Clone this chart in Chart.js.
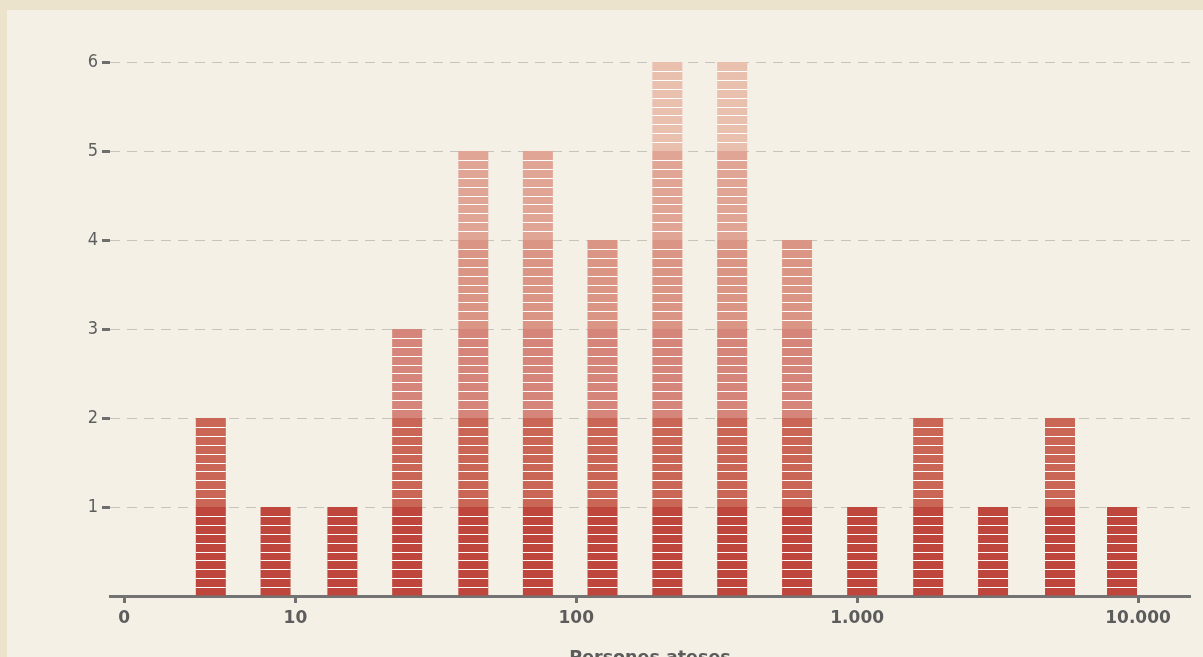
<!DOCTYPE html>
<html>
<head>
<meta charset="utf-8">
<script src="https://cdn.jsdelivr.net/npm/chart.js@4.4.1/dist/chart.umd.min.js"></script>
<style>
  html, body { margin: 0; padding: 0; overflow: hidden; background: #ebe3cb; }
  #panel { position: absolute; left: 7px; top: 10px; width: 1196px; height: 660px; background: #f4f0e6; }
  #chart { display: block; }
</style>
</head>
<body>
<div id="panel"><canvas id="chart" width="1196" height="660"></canvas></div>
<script>
// bins (people served, log spaced) and number of cases per bin
const binCenters = [5, 8.5, 14.7, 25, 43, 73, 124, 211, 359, 611, 1042, 1790, 3047, 5275, 8770];
const counts = [2, 1, 1, 3, 5, 5, 4, 6, 6, 4, 1, 2, 1, 2, 1];

const xTickValues = [0, 10, 100, 1000, 10000];
const xTickLabels = ["0", "10", "100", "1.000", "10.000"];
const yTickValues = [1, 2, 3, 4, 5, 6];

// one colour per unit level, darker at the bottom
const levelColors = ["#bf463d", "#c96656", "#d5857a", "#da9585", "#e0a595", "#e9bfae"];

// position on the x axis: log10, with zero put just left of the first decade
const ZERO_POS = 0.39;
function pos(v) {
  return v === 0 ? ZERO_POS : Math.log10(v);
}

let datasets = levelColors.map((color, level) => ({
  label: "nivell " + (level + 1),
  data: counts.map((c, i) => ({ x: pos(binCenters[i]), y: Math.max(0, Math.min(1, c - level)) })),
  backgroundColor: color,
  borderWidth: 0,
  inflateAmount: 0,
  barThickness: 30
}));

// thin white stripes across each bar, every 0.1
const stripes = {
  id: "stripes",
  afterDatasetsDraw(chart) {
    const ctx = chart.ctx;
    const y = chart.scales.y;
    const meta = chart.getDatasetMeta(0);
    ctx.save();
    ctx.strokeStyle = "#ffffff";
    ctx.lineWidth = 1;
    counts.forEach((c, i) => {
      const bar = meta.data[i];
      const x0 = bar.x - bar.width / 2;
      const x1 = bar.x + bar.width / 2;
      for (let k = 1; k < c * 10; k++) {
        if (k % 10 === 0) continue;
        const py = Math.round(y.getPixelForValue(k / 10)) + 0.5;
        ctx.beginPath();
        ctx.moveTo(x0, py);
        ctx.lineTo(x1, py);
        ctx.stroke();
      }
    });
    ctx.restore();
  }
};

new Chart(document.getElementById("chart"), {
  type: "bar",
  data: { datasets: datasets },
  plugins: [stripes],
  options: {
    responsive: false,
    animation: false,
    layout: { padding: { top: 52, right: 13, left: 0, bottom: 0 } },
    plugins: { legend: { display: false }, tooltip: { enabled: false } },
    scales: {
      x: {
        type: "linear",
        stacked: true,
        offset: false,
        min: 0.34,
        max: 4.185,
        afterBuildTicks: (scale) => {
          scale.ticks = xTickValues.map(v => ({ value: pos(v) }));
        },
        afterFit: (scale) => { scale.height = 660 - 52 - 534; },
        ticks: {
          autoSkip: false,
          maxRotation: 0,
          padding: 5,
          color: "#5c5c5c",
          font: { family: "'DejaVu Sans'", size: 17, weight: "bold" },
          callback: (value, index) => xTickLabels[index]
        },
        grid: {
          offset: false,
          drawOnChartArea: false,
          drawTicks: true,
          tickLength: 7,
          tickWidth: 3,
          tickColor: "#707070"
        },
        border: { display: true, color: "#737373", width: 3 },
        title: {
          display: true,
          text: "Persones ateses",
          color: "#5c5c5c",
          font: { family: "'DejaVu Sans'", size: 17.5, weight: "bold" },
          padding: { top: 10, bottom: 1 }
        }
      },
      y: {
        stacked: true,
        min: 0,
        max: 6,
        afterBuildTicks: (scale) => {
          scale.ticks = [0].concat(yTickValues).map(v => ({ value: v }));
        },
        afterFit: (scale) => { scale.width = 103; },
        ticks: {
          padding: 4,
          color: "#5e5e5e",
          font: { family: "'DejaVu Sans Condensed', 'Liberation Sans Narrow', sans-serif", size: 18 },
          callback: (value) => value === 0 ? "" : String(value)
        },
        grid: {
          color: (c) => c.tick && c.tick.value === 0 ? "rgba(0,0,0,0)" : "#c6c4bf",
          lineWidth: 1,
          tickLength: 8,
          tickWidth: 3,
          tickColor: (c) => c.tick && c.tick.value === 0 ? "rgba(0,0,0,0)" : "#6e6e6e"
        },
        border: { display: false, dash: [10, 7] }
      }
    }
  }
});
</script>
</body>
</html>
